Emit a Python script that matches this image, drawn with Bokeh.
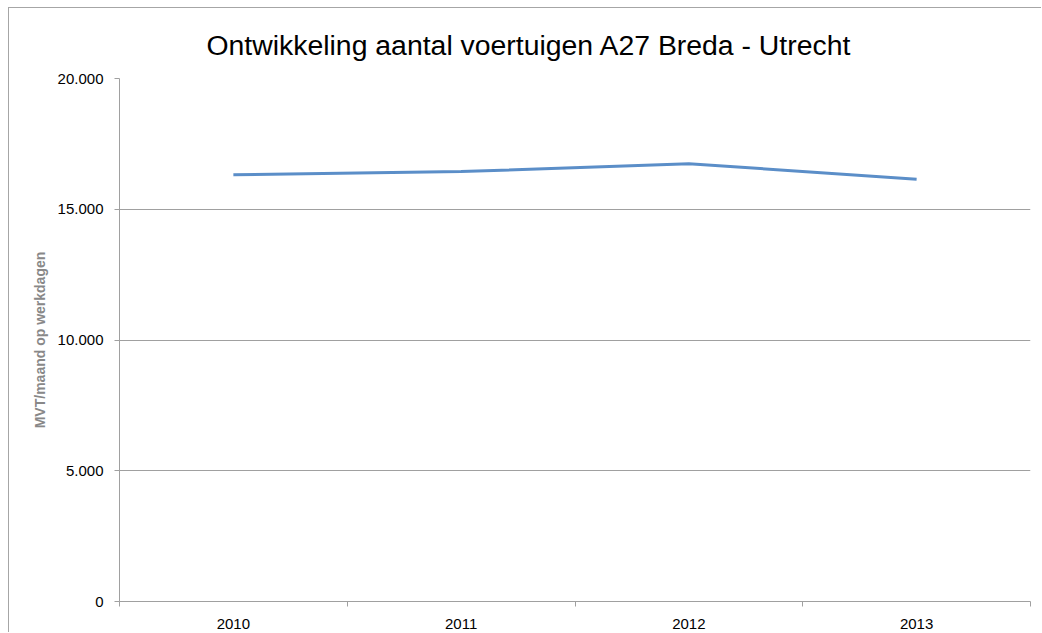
from bokeh.plotting import figure
from bokeh.models import FixedTicker, Range1d
from bokeh.embed import file_html
from bokeh.resources import INLINE

years = ["2010", "2011", "2012", "2013"]
values = [16320, 16440, 16740, 16150]
y_ticks = [0, 5000, 10000, 15000, 20000]

title = "Ontwikkeling aantal voertuigen A27 Breda - Utrecht"
y_label = "MVT/maand op werkdagen"

xs = [i + 0.5 for i in range(len(years))]
FONT = "Liberation Sans"
GRAY = "#a0a0a0"

p = figure(width=1033, height=625, output_backend="svg", toolbar_location=None,
           x_range=Range1d(0, len(years)), y_range=Range1d(0, 20000),
           min_border_left=110, min_border_right=12, min_border_top=70, min_border_bottom=32)
p.styles = {"border-left": "1px solid #a6a6a6", "border-top": "1px solid #a6a6a6",
            "margin-left": "8px", "margin-top": "7px"}
p.outline_line_color = None
p.background_fill_color = "white"
p.border_fill_color = "white"

p.line(xs, values, line_color="#5b8ec8", line_width=3)

p.title.text = title
p.title.text_font = FONT
p.title.text_font_size = "28.4px"
p.title.text_font_style = "normal"
p.title.align = "left"
p.title.vertical_align = "top"
p.title.offset = 87
p.title.standoff = 32
p.title.text_color = "black"

xa = p.xaxis[0]
xa.ticker = FixedTicker(ticks=xs, minor_ticks=list(range(len(years) + 1)))
xa.major_label_overrides = {x: y for x, y in zip(xs, years)}
xa.major_tick_out = 0
xa.major_tick_in = 0
xa.minor_tick_out = 5
xa.minor_tick_in = 0
xa.minor_tick_line_color = GRAY
xa.axis_line_color = GRAY
xa.major_label_text_font = FONT
xa.major_label_text_font_size = "15px"
xa.major_label_text_color = "black"
xa.major_label_standoff = 12

ya = p.yaxis[0]
ya.ticker = FixedTicker(ticks=y_ticks, minor_ticks=[])
ya.major_label_overrides = {v: f"{v:,}".replace(",", ".") for v in y_ticks}
ya.major_tick_out = 5
ya.major_tick_in = 0
ya.major_tick_line_color = GRAY
ya.axis_line_color = GRAY
ya.major_label_text_font = FONT
ya.major_label_text_font_size = "15px"
ya.major_label_text_color = "black"
ya.major_label_standoff = 11
ya.axis_label = y_label
ya.axis_label_text_font = FONT
ya.axis_label_text_font_size = "14px"
ya.axis_label_text_font_style = "bold"
ya.axis_label_text_color = "#888888"
ya.axis_label_standoff = 7

p.xgrid.visible = False
p.ygrid.grid_line_color = GRAY
p.ygrid.grid_line_width = 1

open("out.html", "w").write(file_html(p, INLINE))
